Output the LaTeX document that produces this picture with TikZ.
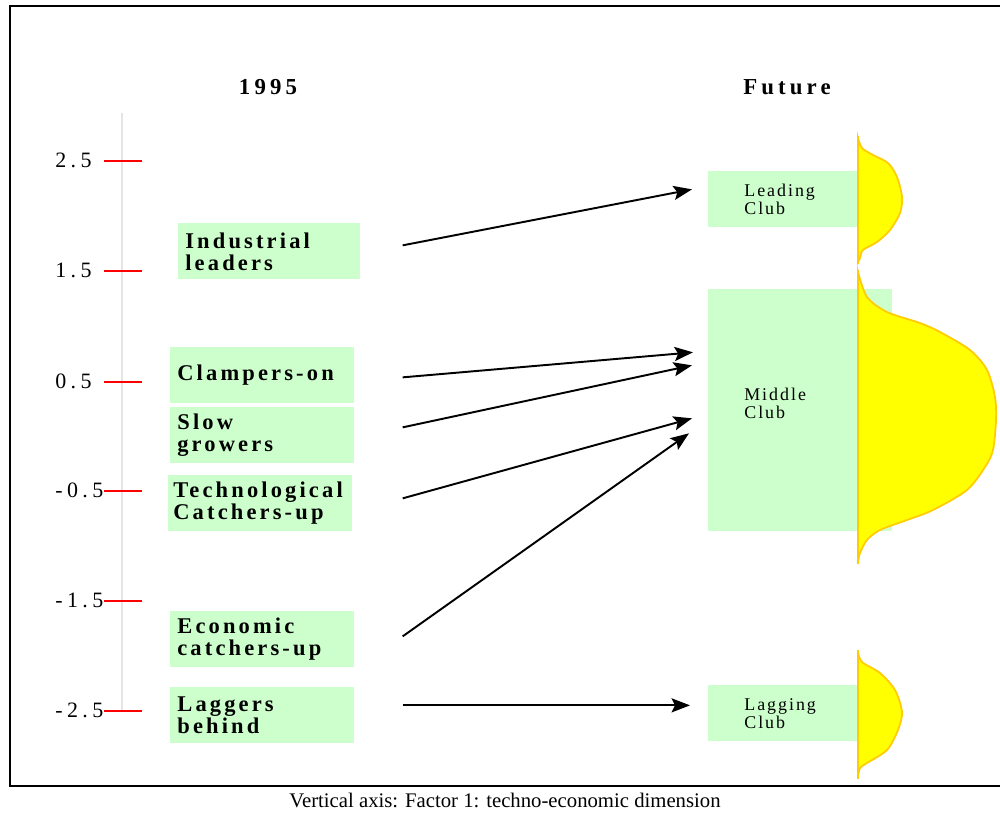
\documentclass[tikz,border=0pt]{standalone}
\usepackage{fontspec}
\setmainfont{Liberation Serif}
\newfontfamily\boxfont[LetterSpace=14]{Liberation Serif}
\newfontfamily\headfont[LetterSpace=18]{Liberation Serif}
\newfontfamily\clubfont[LetterSpace=11]{Liberation Serif}
\newfontfamily\axisfont[LetterSpace=20]{Liberation Serif}
\usepackage{xcolor}
\usepackage{tikz}
\usetikzlibrary{calc,arrows.meta,positioning}
\definecolor{boxgreen}{HTML}{CCFFCC}
\definecolor{distedge}{HTML}{FFCC00}
\definecolor{distfill}{HTML}{FFFF00}
\tikzset{
  group/.style={fill=boxgreen, anchor=north west, minimum height=1.12cm, inner xsep=0.14cm, inner ysep=0pt, text width=3.4cm, align=left, font=\boxfont\bfseries\fontsize{12.8}{12.5}\selectfont},
  club/.style={fill=boxgreen, anchor=north west, minimum height=1.12cm, inner xsep=0.72cm, inner ysep=0pt, text width=1.56cm, align=left, font=\clubfont\fontsize{10.2}{10.2}\selectfont},
  tick/.style={draw=red, line width=1.1pt},
  ticklabel/.style={anchor=west, inner sep=0pt, font=\axisfont\fontsize{12.5}{12.5}\selectfont},
  head/.style={font=\headfont\bfseries\fontsize{13}{13}\selectfont},
  flow/.style={-{Stealth[length=10.5pt,width=8pt,inset=2pt]}, line width=1.1pt},
  dist/.style={fill=distfill, draw=distedge, line width=1pt},
  distline/.style={draw=distedge, line width=1.3pt}
}
\begin{document}
\begin{tikzpicture}[x=0.02cm, y=-0.02cm]
  \useasboundingbox (0,0) rectangle (1000,812);
  \draw[line width=1.1pt] (1000,6) -- (10,6) -- (10,786) -- (1000,786);

  \node[head] (y1995) at (268,87) {1995};
  \node[head] (future) at (787,87) {Future};

  \draw[black!10, line width=1pt] (122,113) -- (122,711);
  \foreach \v/\y in {2.5/161, 1.5/271, 0.5/382, -0.5/491, -1.5/601, -2.5/711} {
    \draw[tick] (104,\y) -- (142,\y);
    \node[ticklabel] at (55,\y-1) {\v};
  }

  \node[group, text width=3.36cm] (ind) at (178,223) {Industrial\\leaders};
  \node[group] (clamp) at (170,347) {Clampers-on};
  \node[group] (slow) at (170,407) {Slow\\growers};
  \node[group, inner xsep=0.1cm, text width=3.48cm] (tech) at (168,475) {Technological\\Catchers-up};
  \node[group] (econ) at (170,611) {Economic\\catchers-up};
  \node[group] (lag) at (170,687) {Laggers\\behind};

  \node[club] (lead) at (708,171) {Leading\\Club};
  \node[club, minimum height=4.84cm, text width=2.24cm] (midc) at (708,289) {Middle\\Club\\[-2.2pt]\mbox{}};
  \node[club] (lagc) at (708,685) {Lagging\\Club};

  \filldraw[dist] plot[smooth] coordinates {(858,138) (862,148) (873,155) (888,163) (897,177) (902,197) (900,213) (890,230) (877,242) (863,250) (860,258) (858,262)} -- cycle;
  \draw[distline] (858,136) -- (858,264);
  \filldraw[dist] plot[smooth] coordinates {(858,272) (867,297) (887,312) (920,323) (940,332) (970,350) (987,370) (995,397) (996,420) (993,450) (985,467) (967,490) (933,510) (907,520) (880,530) (867,540) (860,553) (858,562)} -- cycle;
  \draw[distline] (858,270) -- (858,564);
  \filldraw[dist] plot[smooth] coordinates {(858,652) (862,662) (880,673) (895,690) (902,712) (898,730) (887,750) (867,763) (860,768) (858,777)} -- cycle;
  \draw[distline] (858,650) -- (858,779);

  \draw[flow] ([shift={(42,-6)}]ind.east) -- ([shift={(-16,-10)}]lead.west);
  \draw[flow] ([shift={(48,2)}]clamp.east) -- ([shift={(-15,-58)}]midc.west);
  \draw[flow] ([shift={(48,-8)}]slow.east) -- ([shift={(-16,-45)}]midc.west);
  \draw[flow] ([shift={(50,-5)}]tech.east) -- ([shift={(-16,8)}]midc.west);
  \draw[flow] ([shift={(48,-3)}]econ.east) -- ([shift={(-19,23)}]midc.west);
  \draw[flow] ([shift={(48,-10)}]lag.east) -- ([shift={(-18,-8)}]lagc.west);

  \node[font=\fontsize{11.8}{11.8}\selectfont] (caption) at (505,800) {Vertical axis: Factor 1: techno-economic dimension};
\end{tikzpicture}
\end{document}
